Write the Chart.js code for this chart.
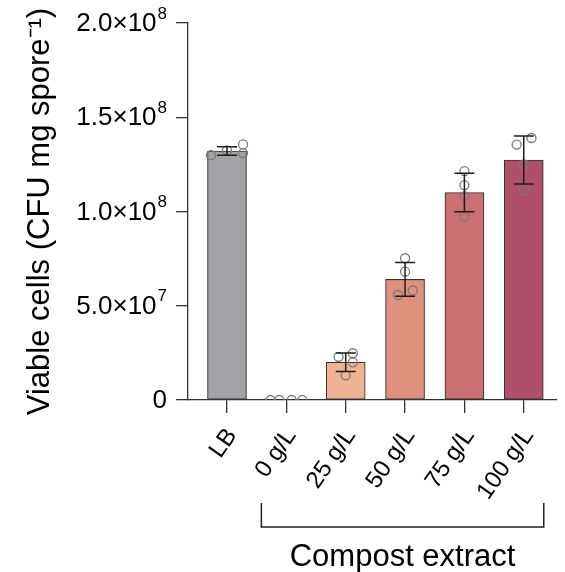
<!DOCTYPE html>
<html>
<head>
<meta charset="utf-8">
<script src="https://cdn.jsdelivr.net/npm/chart.js@4.4.1/dist/chart.umd.min.js"></script>
<style>
  html, body { margin: 0; padding: 0; background: #fff; }
  #wrap { width: 565px; height: 572px; }
</style>
</head>
<body>
<div id="wrap"><canvas id="chart" width="565" height="572"></canvas></div>
<script>
const categories = ["LB", "0 g/L", "25 g/L", "50 g/L", "75 g/L", "100 g/L"];
const means = [1.321e8, 0, 2.0e7, 6.40e7, 1.101e8, 1.273e8];
const sds = [2.3e6, 0, 4.9e6, 9.0e6, 1.02e7, 1.27e7];
const barColors = ["#a3a2a7", "#ffffff", "#eeb393", "#e0917d", "#cc6f73", "#b04f69"];
// replicate points, 4 per group, with small sideways jitter (in category units)
const replicates = [
  [1.299e8, 1.324e8, 1.356e8, 1.310e8],
  [0, 0, 0, 0],
  [2.29e7, 2.48e7, 2.0e7, 1.31e7],
  [7.52e7, 6.81e7, 5.57e7, 5.81e7],
  [1.214e8, 1.140e8, 1.081e8, 0.973e8],
  [1.355e8, 1.390e8, 1.250e8, 1.112e8]
];
const jitter = [
  [-0.27, 0, 0.27, 0.27],
  [-0.27, -0.12, 0.09, 0.27],
  [-0.12, 0.12, 0.12, 0],
  [0, 0, -0.12, 0.13],
  [0, 0, 0, 0],
  [-0.12, 0.13, 0, 0]
];
const yTicks = [0, 5e7, 1e8, 1.5e8, 2e8];

const FONT = "'Liberation Sans', Arial, Helvetica, sans-serif";

const pointData = [];
replicates.forEach((vals, i) => {
  vals.forEach((v, k) => pointData.push({ x: i + jitter[i][k], y: v }));
});

// y labels as mantissa×10 with a raised exponent
function drawSci(ctx, v, xRight, y) {
  if (v === 0) {
    ctx.font = "26px " + FONT;
    ctx.textAlign = "right";
    ctx.fillText("0", xRight, y);
    return;
  }
  const e = Math.floor(Math.log10(v));
  const m = (v / Math.pow(10, e)).toFixed(1);
  ctx.font = "17px " + FONT;
  const ew = ctx.measureText(String(e)).width;
  ctx.textAlign = "right";
  ctx.fillText(String(e), xRight, y - 10);
  ctx.font = "26px " + FONT;
  ctx.fillText(m + "×10", xRight - ew - 1, y);
}

const extrasPlugin = {
  id: "extras",
  afterDatasetsDraw(chart) {
    const ctx = chart.ctx;
    const xs = chart.scales.x, ys = chart.scales.y;
    ctx.save();
    ctx.strokeStyle = "#1e1e1e";
    ctx.lineWidth = 1.5;
    means.forEach((m, i) => {
      if (sds[i] === 0) return;
      const x = xs.getPixelForValue(i);
      const top = ys.getPixelForValue(m + sds[i]);
      const bot = ys.getPixelForValue(m - sds[i]);
      ctx.beginPath();
      ctx.moveTo(x, top); ctx.lineTo(x, bot);
      ctx.moveTo(x - 10, top); ctx.lineTo(x + 10, top);
      ctx.moveTo(x - 10, bot); ctx.lineTo(x + 10, bot);
      ctx.stroke();
    });
    ctx.restore();
  },
  afterDraw(chart) {
    const ctx = chart.ctx;
    const xs = chart.scales.x, ys = chart.scales.y;
    ctx.save();
    ctx.fillStyle = "#000";
    ctx.textBaseline = "middle";
    yTicks.forEach(v => drawSci(ctx, v, 167, ys.getPixelForValue(v) + 1));

    const left = xs.getPixelForValue(1) - 25;
    const right = xs.getPixelForValue(5) + 20;
    ctx.strokeStyle = "#222";
    ctx.lineWidth = 1.5;
    ctx.beginPath();
    ctx.moveTo(left, 503); ctx.lineTo(left, 527);
    ctx.lineTo(right, 527); ctx.lineTo(right, 503);
    ctx.stroke();
    ctx.font = "31px " + FONT;
    ctx.textAlign = "center";
    ctx.textBaseline = "alphabetic";
    ctx.fillText("Compost extract", (left + right) / 2, 566);
    ctx.restore();
  }
};

new Chart(document.getElementById("chart"), {
  data: {
    datasets: [
      {
        type: "scatter",
        data: pointData,
        pointStyle: "circle",
        pointRadius: 4.5,
        borderColor: "#7a7a7a",
        backgroundColor: "rgba(0,0,0,0)",
        borderWidth: 1.3,
        clip: { left: false, top: false, right: false, bottom: 0 },
        order: 0
      },
      {
        type: "bar",
        data: means.map((v, i) => ({ x: i, y: v })),
        backgroundColor: barColors,
        borderColor: "#333333",
        borderWidth: 1.1,
        borderSkipped: false,
        barThickness: 39,
        order: 1
      }
    ]
  },
  options: {
    responsive: false,
    animation: false,
    layout: { padding: { top: 23, right: 8, left: 0, bottom: 0 } },
    plugins: { legend: { display: false }, tooltip: { enabled: false } },
    scales: {
      x: {
        type: "linear",
        min: -0.657,
        max: 5.56,
        offset: false,
        afterBuildTicks(scale) { scale.ticks = categories.map((c, i) => ({ value: i })); },
        afterFit(scale) { scale.height = 172; },
        grid: { offset: false, drawOnChartArea: false, drawTicks: true, tickLength: 13, color: "#333", lineWidth: 1.3 },
        border: { color: "#333", width: 1.3 },
        ticks: {
          color: "#000",
          font: { size: 24, family: FONT },
          minRotation: 55,
          maxRotation: 55,
          autoSkip: false,
          padding: 10,
          labelOffset: 5,
          callback: (v) => categories[v]
        }
      },
      y: {
        min: 0,
        max: 2e8,
        afterBuildTicks(scale) { scale.ticks = yTicks.map(v => ({ value: v })); },
        afterFit(scale) { scale.width = 188; },
        grid: { drawOnChartArea: false, drawTicks: true, tickLength: 12, color: "#333", lineWidth: 1.3 },
        border: { color: "#333", width: 1.3 },
        ticks: {
          color: "rgba(0,0,0,0)",
          font: { size: 24, family: FONT },
          padding: 4,
          callback: (v) => String(v)
        },
        title: {
          display: true,
          text: "Viable cells (CFU mg spore⁻¹)",
          color: "#000",
          font: { size: 31, family: FONT },
          padding: { top: 22, bottom: 0 }
        }
      }
    }
  },
  plugins: [extrasPlugin]
});
</script>
</body>
</html>
